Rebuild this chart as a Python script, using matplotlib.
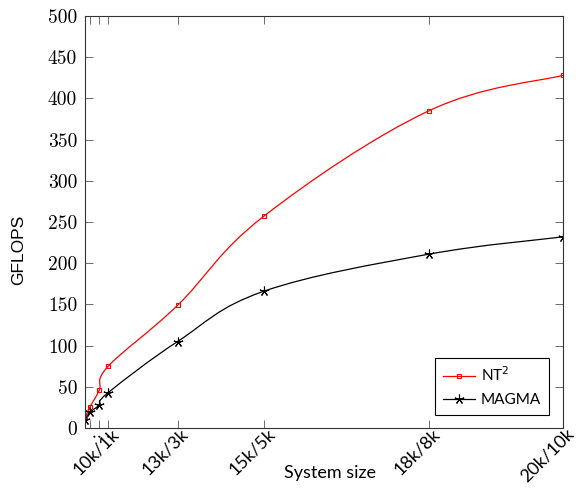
import matplotlib
matplotlib.use('Agg')
import matplotlib.pyplot as plt
from matplotlib.path import Path
from matplotlib.patches import PathPatch
from matplotlib.transforms import ScaledTranslation
import numpy as np

sizes = [0.5, 2.25, 6.25, 10, 39, 75, 144, 200]
size_labels = ['.', '.', '.', '10k/1k', '13k/3k', '15k/5k', '18k/8k', '20k/10k']
nt2 = [13, 25, 46, 75, 149, 257, 385, 428]
magma = [10, 19, 28, 43, 105, 166, 211, 232]

y_ticks = list(range(0, 501, 50))


def smooth_path(xs, ys, tension=0.55):
    """pgfplots-like smooth curve through the points (bezier path)"""
    pts = np.column_stack([xs, ys]).astype(float)
    verts = [pts[0]]
    codes = [Path.MOVETO]
    n = len(pts)
    for i in range(n - 1):
        p0 = pts[max(i - 1, 0)]
        p1 = pts[i]
        p2 = pts[i + 1]
        p3 = pts[min(i + 2, n - 1)]
        c1 = p1 + (p2 - p0) * tension / 3
        c2 = p2 - (p3 - p1) * tension / 3
        verts += [c1, c2, p2]
        codes += [Path.CURVE4] * 3
    return Path(verts, codes)


fig = plt.figure(figsize=(5.76, 4.92), dpi=100)
ax = fig.add_axes([0.1484, 0.130, 0.8290, 0.8375])

star = (5, 2, 0)
series = [(nt2, 'red', 's', 'NT$^2$', 3.5, 'none'),
          (magma, 'black', star, 'MAGMA', 7, 'black')]
for vals, col, mk, lab, ms, mfc in series:
    ax.add_patch(PathPatch(smooth_path(sizes, vals), fill=False,
                           edgecolor=col, linewidth=0.9))
    ax.plot(sizes, vals, linestyle='none', marker=mk, color=col,
            markersize=ms, markerfacecolor=mfc, markeredgewidth=0.8)
    # legend proxy
    ax.plot([], [], color=col, marker=mk, markersize=ms,
            markerfacecolor=mfc, markeredgewidth=0.8, linewidth=0.9, label=lab)

ax.set_xlim(sizes[0], sizes[-1])
ax.set_ylim(0, 500)

ax.set_yticks(y_ticks)
ax.set_yticklabels([str(v) for v in y_ticks], family='cmr10', fontsize=14)
ax.set_xticks(sizes)
ax.set_xticklabels(size_labels, rotation=45, ha='right', va='center',
                   rotation_mode='anchor', family='Lato', fontsize=13)

ax.tick_params(direction='in', length=6, width=0.6, color='#555555',
               top=True, right=True)
ax.tick_params(axis='y', pad=6)
ax.tick_params(axis='x', pad=2.5)
shift = ScaledTranslation(6 / 72, 0, fig.dpi_scale_trans)
for lbl in ax.get_xticklabels():
    lbl.set_transform(lbl.get_transform() + shift)
for sp in ax.spines.values():
    sp.set_color('#333333')
    sp.set_linewidth(0.8)

ax.set_xlabel('System size', family='Lato', fontsize=13)
ax.xaxis.set_label_coords(0.512, -0.108)
ax.xaxis.label.set_va('center')
ax.set_ylabel('GFLOPS', family='Liberation Sans', fontsize=12.5)
ax.yaxis.set_label_coords(-0.141, 0.432)
ax.yaxis.label.set_va('center')

leg = ax.legend(loc='lower right', bbox_to_anchor=(0.9707, 0.0316),
                borderaxespad=0, prop={'family': 'Lato', 'size': 11},
                fancybox=False, edgecolor='black', framealpha=1,
                handlelength=2.1, handletextpad=0.4,
                borderpad=0.5, labelspacing=0.6)
leg.get_frame().set_linewidth(0.8)

fig.savefig('out.png', dpi=100)
